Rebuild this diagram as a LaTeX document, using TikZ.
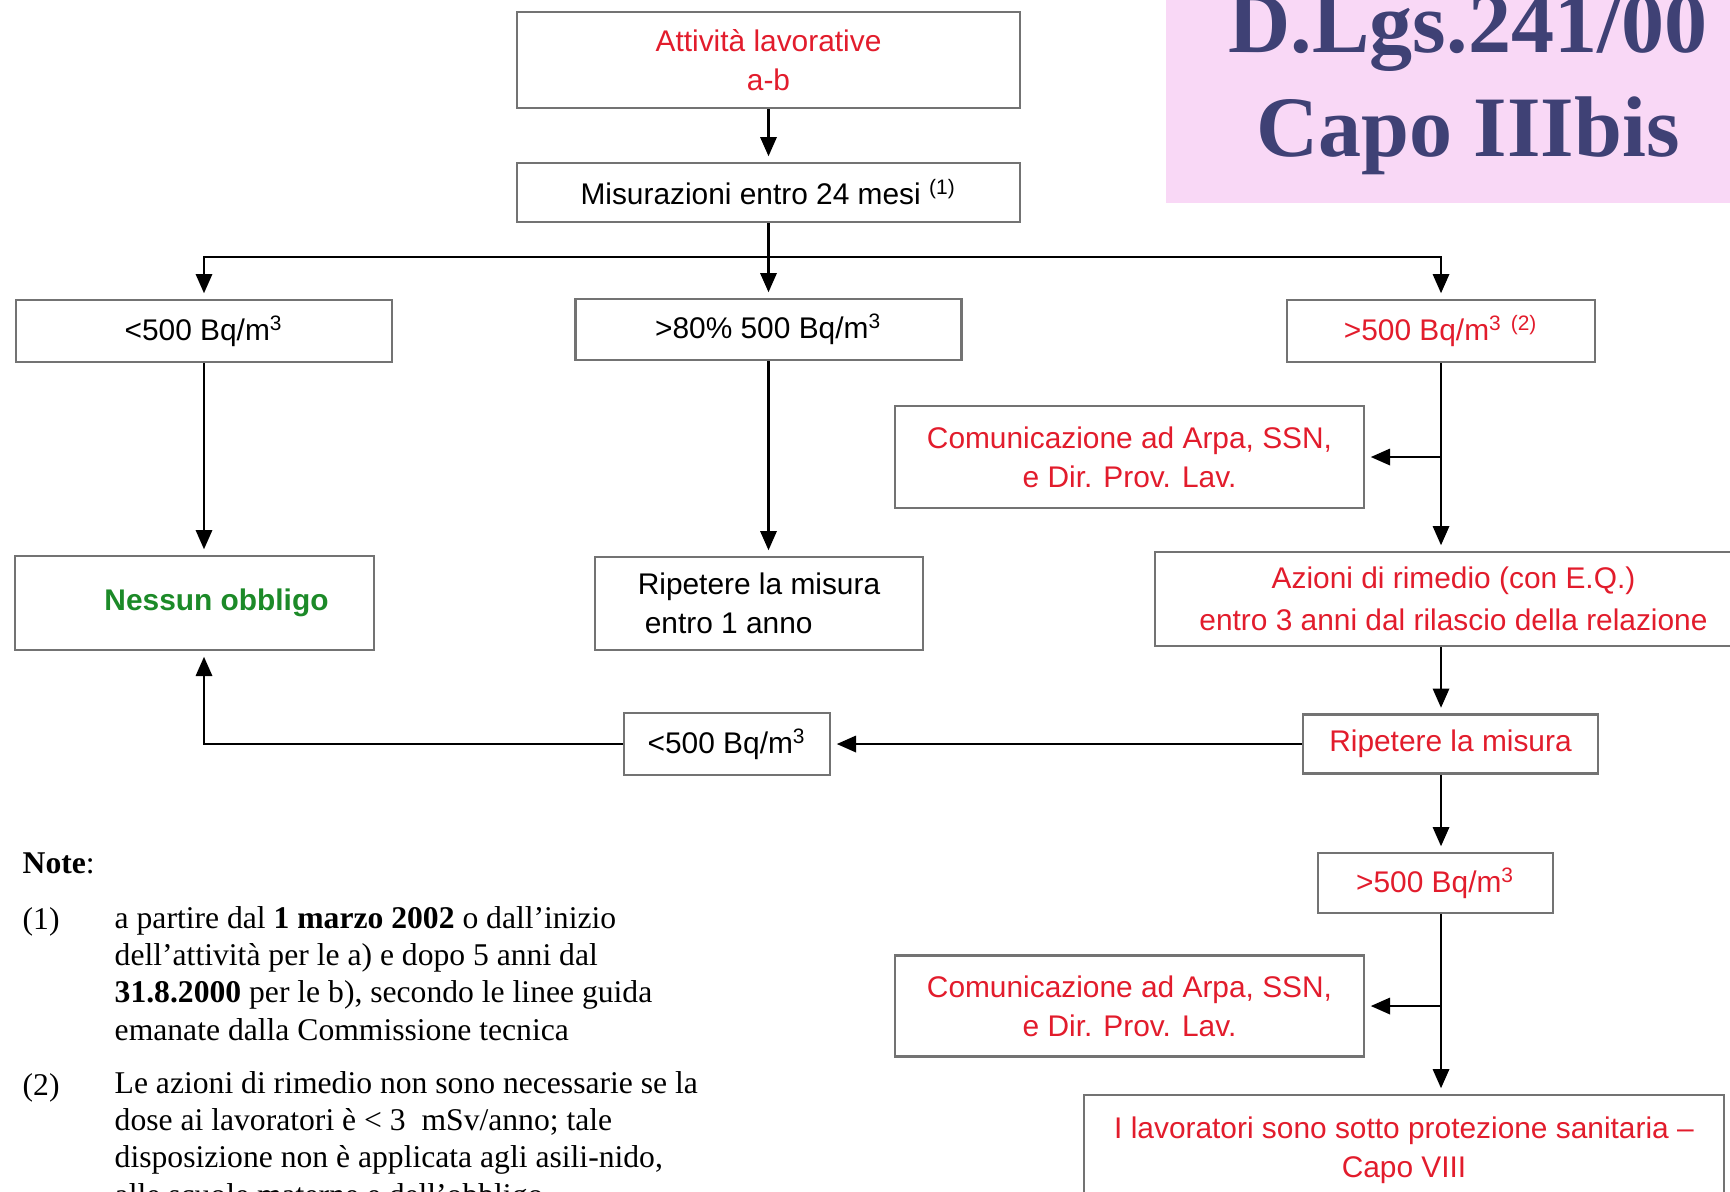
\documentclass[tikz,border=0pt]{standalone}
\usepackage{fontspec}
\setmainfont{Liberation Sans}
\newfontfamily\serifnote{Liberation Serif}
\usetikzlibrary{arrows.meta, calc}
\definecolor{boxred}{RGB}{226,28,44}
\definecolor{nessgreen}{RGB}{28,138,40}
\definecolor{boxgray}{RGB}{115,115,115}
\definecolor{titlepink}{RGB}{249,216,246}
\definecolor{titleblue}{RGB}{63,65,117}

\begin{document}
\begin{tikzpicture}[
  box/.style={draw=boxgray, line width=0.8pt, align=center, inner sep=2pt,
              font=\fontsize{8.5}{11}\selectfont},
  arr/.style={-{Triangle[length=5.5pt, width=4.6pt]}, line width=0.8pt, shorten >=1.5pt},
  note/.style={font=\serifnote\fontsize{9}{10.6}\selectfont, align=left,
               inner sep=0pt, anchor=base west}]

  \useasboundingbox (0,0) rectangle (17.30,-11.91);
  \clip (0,0) rectangle (17.30,-11.91);

  % ----- title -----
  \node[fill=titlepink, minimum width=6.04cm, minimum height=2.36cm, align=center,
        text=titleblue, font=\serifnote\bfseries\fontsize{24.5}{29.6}\selectfont]
        at (14.68,-0.85) (titel) {D.Lgs.241/00\\Capo IIIbis};

  % ----- top of the chart -----
  \node[box, text=boxred, minimum width=5.03cm, minimum height=0.96cm]
        at (7.685,-0.60) (att) {Attività lavorative\\a-b};
  \node[box, minimum width=5.03cm, minimum height=0.59cm]
        at (7.685,-1.925) (mis) {Misurazioni entro 24 mesi \textsuperscript{(1)}};

  % ----- three levels -----
  \node[box, minimum width=3.76cm, minimum height=0.62cm]
        at (2.04,-3.31) (lt) {<500 Bq/m\textsuperscript{3}};
  \node[box, minimum width=3.86cm, minimum height=0.61cm]
        at (7.685,-3.295) (gt80) {>80\% 500 Bq/m\textsuperscript{3}};
  \node[box, text=boxred, minimum width=3.08cm, minimum height=0.62cm]
        at (14.41,-3.31) (gt500) {>500 Bq/m\textsuperscript{3} \textsuperscript{(2)}};

  % ----- outcomes -----
  \node[box, text=boxred, minimum width=4.69cm, minimum height=1.02cm]
        at (11.295,-4.57) (com1) {Comunicazione ad Arpa, SSN,\\e Dir. Prov. Lav.};
  \node[box, text=nessgreen, font=\fontsize{8.5}{11}\selectfont\bfseries,
        minimum width=3.59cm, minimum height=0.94cm]
        at (1.945,-6.03) (ness) {\hspace*{0.44cm}Nessun obbligo};
  \node[box, align=left, minimum width=3.28cm, minimum height=0.93cm]
        at (7.59,-6.035) (rip1) {Ripetere la misura\\\hspace*{2pt}entro 1 anno};
  \node[box, text=boxred, minimum width=5.97cm, minimum height=0.94cm]
        at (14.535,-5.99) (azi) {Azioni di rimedio (con E.Q.)\\[1pt]entro 3 anni dal rilascio della relazione};

  % ----- second measurement -----
  \node[box, text=boxred, minimum width=2.95cm, minimum height=0.59cm]
        at (14.505,-7.44) (rip2) {Ripetere la misura};
  \node[box, minimum width=2.06cm, minimum height=0.62cm]
        at (7.27,-7.44) (lt2) {<500 Bq/m\textsuperscript{3}};
  \node[box, text=boxred, minimum width=2.35cm, minimum height=0.60cm]
        at (14.355,-8.83) (gt500b) {>500 Bq/m\textsuperscript{3}};
  \node[box, text=boxred, minimum width=4.69cm, minimum height=1.01cm]
        at (11.295,-10.06) (com2) {Comunicazione ad Arpa, SSN,\\e Dir. Prov. Lav.};
  \node[box, text=boxred, minimum width=6.40cm, minimum height=1.10cm]
        at (14.04,-11.50) (lav) {I lavoratori sono sotto protezione sanitaria –\\Capo VIII};

  % ----- connectors -----
  \coordinate (split) at (7.685,-2.57);
  \draw[line width=0.8pt] (mis.south) -- (split);
  \draw[arr] (att) -- (mis);
  \draw[arr] (split) -| (lt.north);
  \draw[arr] (split) -- (gt80.north);
  \draw[arr] (split) -| (gt500.north);
  \draw[arr] (lt) -- (lt |- ness.north);
  \draw[arr] (gt80) -- (gt80 |- rip1.north);
  \draw[arr] (gt500) -- (gt500 |- azi.north);
  \draw[arr] (gt500 |- com1.east) -- (com1.east);
  \draw[arr] (gt500 |- azi.south) -- (gt500 |- rip2.north);
  \draw[arr] (rip2) -- (lt2);
  \draw[arr] (lt2) -| (lt |- ness.south);
  \draw[arr] (gt500 |- rip2.south) -- (gt500 |- gt500b.north);
  \draw[arr] (gt500 |- gt500b.south) -- (gt500 |- lav.north);
  \draw[arr] (gt500 |- com2.east) -- (com2.east);

  % ----- notes (base = last line) -----
  \node[note] at (0.22,-8.73) (notehead) {\textbf{Note}:};
  \node[note] at (0.22,-9.29) (n1lab) {(1)};
  \node[note] at (1.14,-10.40) (n1) {a partire dal \textbf{1 marzo 2002} o dall’inizio\\
    dell’attività per le a) e dopo 5 anni dal\\
    \textbf{31.8.2000} per le b), secondo le linee guida\\
    emanate dalla Commissione tecnica};
  \node[note] at (0.22,-10.95) (n2lab) {(2)};
  \node[note] at (1.14,-12.05) (n2) {Le azioni di rimedio non sono necessarie se la\\
    dose ai lavoratori è < 3 \ mSv/anno; tale\\
    disposizione non è applicata agli asili-nido,\\
    alle scuole materne e dell’obbligo.};

\end{tikzpicture}
\end{document}
